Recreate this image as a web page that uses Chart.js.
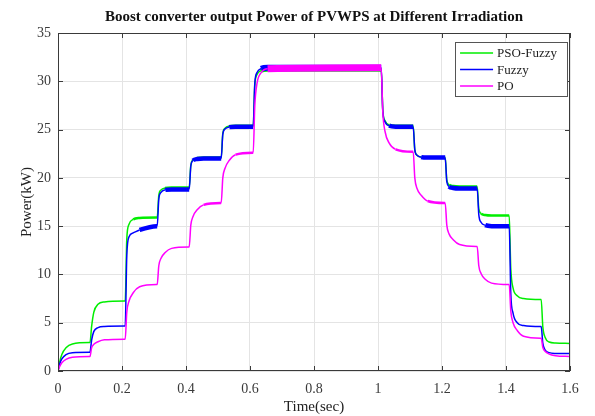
<!DOCTYPE html>
<html>
<head>
<meta charset="utf-8">
<script src="https://cdn.jsdelivr.net/npm/chart.js@4.4.0/dist/chart.umd.min.js"></script>
<style>
  body { margin: 0; background: #fff; }
  #wrap { width: 595px; height: 416px; }
</style>
</head>
<body>
<div id="wrap"><canvas id="chart" width="595" height="416"></canvas></div>
<script>
// time samples (sec), 6 per irradiation step
const timeSec = [
  0, 0.005, 0.012, 0.025, 0.045, 0.098,
  0.1, 0.105, 0.112, 0.125, 0.145, 0.208,
  0.21, 0.215, 0.222, 0.235, 0.255, 0.308,
  0.31, 0.315, 0.322, 0.335, 0.355, 0.408,
  0.41, 0.415, 0.422, 0.435, 0.455, 0.508,
  0.51, 0.515, 0.522, 0.535, 0.555, 0.608,
  0.61, 0.615, 0.622, 0.635, 0.655, 1.008,
  1.01, 1.015, 1.022, 1.035, 1.055, 1.108,
  1.11, 1.115, 1.122, 1.135, 1.155, 1.208,
  1.21, 1.215, 1.222, 1.235, 1.255, 1.308,
  1.31, 1.315, 1.322, 1.335, 1.355, 1.408,
  1.41, 1.415, 1.422, 1.435, 1.455, 1.508,
  1.51, 1.515, 1.522, 1.535, 1.555, 1.6
];

// output power (kW)
const psoFuzzy = [
  0, 0.9, 1.7, 2.4, 2.8, 2.95,
  2.95, 4.6, 6.1, 6.9, 7.15, 7.25,
  7.25, 13.7, 15.2, 15.7, 15.85, 15.9,
  15.9, 18.2, 18.75, 18.95, 19.0, 19.0,
  19.0, 21.3, 21.85, 22.05, 22.1, 22.1,
  22.1, 24.6, 25.15, 25.35, 25.4, 25.4,
  25.4, 29.6, 30.7, 31.1, 31.2, 31.2,
  31.2, 27.0, 25.9, 25.5, 25.4, 25.4,
  25.4, 22.9, 22.35, 22.15, 22.1, 22.1,
  22.1, 19.8, 19.3, 19.15, 19.1, 19.1,
  19.1, 16.8, 16.3, 16.15, 16.1, 16.1,
  16.1, 10.6, 8.6, 7.8, 7.5, 7.4,
  7.4, 4.6, 3.5, 3.0, 2.9, 2.85
];

const fuzzy = [
  0, 0.7, 1.25, 1.7, 1.9, 1.95,
  1.95, 3.2, 4.1, 4.5, 4.62, 4.65,
  4.65, 12.0, 13.9, 14.3, 14.6, 15.0,
  15.0, 17.8, 18.5, 18.75, 18.8, 18.8,
  18.8, 21.2, 21.8, 21.95, 22.0, 22.0,
  22.0, 24.5, 25.05, 25.25, 25.3, 25.3,
  25.3, 29.8, 30.9, 31.3, 31.4, 31.4,
  31.4, 26.9, 25.8, 25.4, 25.3, 25.3,
  25.3, 22.9, 22.35, 22.15, 22.1, 22.1,
  22.1, 19.6, 19.1, 18.95, 18.9, 18.9,
  18.9, 16.2, 15.4, 15.1, 15.0, 15.0,
  15.0, 8.0, 6.0, 5.0, 4.7, 4.6,
  4.6, 2.9, 2.2, 1.9, 1.82, 1.8
];

const po = [
  0, 0.45, 0.85, 1.2, 1.42, 1.5,
  1.5, 2.4, 2.76, 3.03, 3.23, 3.3,
  3.3, 6.1, 7.25, 8.1, 8.72, 8.95,
  8.95, 10.9, 11.68, 12.27, 12.7, 12.85,
  12.85, 15.1, 16.0, 16.7, 17.2, 17.4,
  17.4, 20.0, 21.0, 21.8, 22.4, 22.6,
  22.6, 27.5, 29.8, 30.9, 31.3, 31.4,
  31.4, 26.8, 24.8, 23.6, 22.95, 22.7,
  22.7, 20.0, 18.9, 18.2, 17.6, 17.4,
  17.4, 15.1, 14.2, 13.6, 13.1, 12.9,
  12.9, 10.9, 10.1, 9.5, 9.1, 8.95,
  8.95, 6.2, 5.0, 4.2, 3.6, 3.4,
  3.4, 2.45, 2.05, 1.75, 1.58, 1.5
];

const seriesNames = ['PSO-Fuzzy', 'Fuzzy', 'PO'];
const xTicks = [0, 0.2, 0.4, 0.6, 0.8, 1, 1.2, 1.4, 1.6];
const yTicks = [0, 5, 10, 15, 20, 25, 30, 35];

const serif = "'Liberation Serif', 'Times New Roman', serif";
const axisColor = '#3a3a3a';

function toPoints(vals) {
  return timeSec.map((t, i) => ({ x: t, y: vals[i] }));
}

// ripple band: flat segments at high power are drawn thicker
function band(thin, mid, top) {
  return (ctx) => {
    const dy = Math.abs(ctx.p1.parsed.y - ctx.p0.parsed.y);
    const dx = ctx.p1.parsed.x - ctx.p0.parsed.x;
    const flat = dy / dx < 12;
    if (!flat) return thin;
    const y = ctx.p0.parsed.y;
    if (y > 30) return top;
    if (y >= 14) return mid;
    return thin;
  };
}

const framePlugin = {
  id: 'frame',
  afterDatasetsDraw(chart) {
    const { ctx, chartArea: a, scales } = chart;
    ctx.save();
    ctx.strokeStyle = axisColor;
    ctx.lineWidth = 1;
    ctx.strokeRect(a.left + 0.5, a.top + 0.5, a.right - a.left - 1, a.bottom - a.top - 1);
    ctx.beginPath();
    xTicks.forEach(v => {
      const px = Math.round(scales.x.getPixelForValue(v)) + 0.5;
      ctx.moveTo(px, a.bottom); ctx.lineTo(px, a.bottom - 5);
      ctx.moveTo(px, a.top); ctx.lineTo(px, a.top + 5);
    });
    yTicks.forEach(v => {
      const py = Math.round(scales.y.getPixelForValue(v)) + 0.5;
      ctx.moveTo(a.left, py); ctx.lineTo(a.left + 5, py);
      ctx.moveTo(a.right, py); ctx.lineTo(a.right - 5, py);
    });
    ctx.stroke();

    // legend box, top right inside the axes
    ctx.font = '13px ' + serif;
    const textW = Math.max(...seriesNames.map(n => ctx.measureText(n).width));
    const w = 5 + 33 + 4 + textW + 10;
    const h = 54;
    const x0 = a.right - 3 - w;
    const y0 = a.top + 9;
    ctx.fillStyle = '#fff';
    ctx.fillRect(x0, y0, w, h);
    ctx.strokeStyle = '#555';
    ctx.strokeRect(Math.round(x0) + 0.5, y0 + 0.5, Math.round(w), h);
    ctx.textBaseline = 'middle';
    chart.data.datasets.forEach((ds, i) => {
      const y = y0 + 11 + i * 16.5;
      ctx.strokeStyle = ds.borderColor;
      ctx.lineWidth = 1.5;
      ctx.beginPath();
      ctx.moveTo(x0 + 5, y); ctx.lineTo(x0 + 38, y);
      ctx.stroke();
      ctx.fillStyle = '#222';
      ctx.fillText(ds.label, x0 + 42, y + 1);
    });
    ctx.restore();
  }
};

new Chart(document.getElementById('chart'), {
  type: 'line',
  data: {
    datasets: [
      {
        label: seriesNames[0],
        data: toPoints(psoFuzzy),
        borderColor: '#00ee00',
        borderWidth: 1.5,
        order: 2,
        segment: { borderWidth: band(1.5, 2.5, 4) }
      },
      {
        label: seriesNames[1],
        data: toPoints(fuzzy),
        borderColor: '#0000ff',
        borderWidth: 1.5,
        order: 1,
        segment: { borderWidth: band(1.5, 4.5, 6) }
      },
      {
        label: seriesNames[2],
        data: toPoints(po),
        borderColor: '#ff00ff',
        borderWidth: 1.5,
        order: 0,
        segment: { borderWidth: band(1.5, 2.5, 7) }
      }
    ]
  },
  options: {
    responsive: false,
    animation: false,
    parsing: false,
    layout: { padding: { left: 0, right: 25, top: 0, bottom: 0 } },
    elements: {
      point: { radius: 0 },
      line: { cubicInterpolationMode: 'monotone', fill: false }
    },
    scales: {
      x: {
        type: 'linear',
        min: 0,
        max: 1.6,
        afterFit: (s) => { s.height = 45; },
        afterBuildTicks: (s) => { s.ticks = xTicks.map(v => ({ value: v })); },
        ticks: {
          padding: 10,
          color: axisColor,
          font: { family: serif, size: 14 },
          callback: (v) => String(Number(v.toFixed(1)))
        },
        grid: { color: '#e4e4e4', drawTicks: false },
        border: { display: false },
        title: {
          display: true,
          text: 'Time(sec)',
          color: '#222',
          font: { family: serif, size: 15 },
          padding: { top: 0, bottom: 0 }
        }
      },
      y: {
        min: 0,
        max: 35,
        afterFit: (s) => { s.width = 58; },
        afterBuildTicks: (s) => { s.ticks = yTicks.map(v => ({ value: v })); },
        ticks: {
          padding: 7,
          color: axisColor,
          font: { family: serif, size: 14 }
        },
        grid: { color: '#e4e4e4', drawTicks: false },
        border: { display: false },
        title: {
          display: true,
          text: 'Power(kW)',
          color: '#222',
          font: { family: serif, size: 15 },
          padding: { top: 18, bottom: 0 }
        }
      }
    },
    plugins: {
      legend: { display: false },
      tooltip: { enabled: false },
      title: {
        display: true,
        fullSize: false,
        text: 'Boost converter output Power of PVWPS at Different Irradiation',
        color: '#111',
        font: { family: serif, size: 15, weight: 'bold' },
        padding: { top: 8, bottom: 7 }
      }
    }
  },
  plugins: [framePlugin]
});
</script>
</body>
</html>
